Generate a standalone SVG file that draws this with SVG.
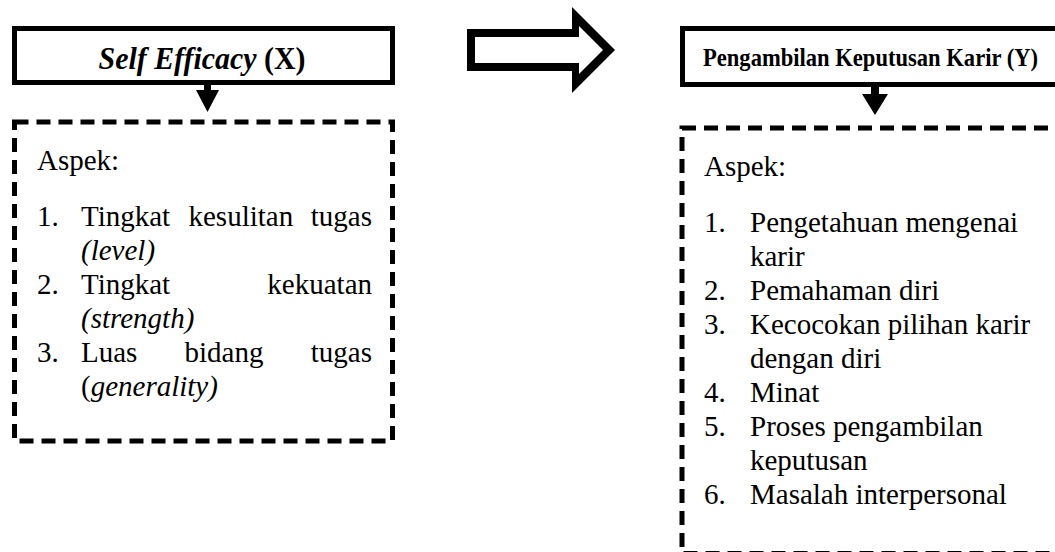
<svg xmlns="http://www.w3.org/2000/svg" width="1055" height="552" viewBox="0 0 1055 552">
<style>
.title{fill:#fff;stroke:#000;stroke-width:5}
.dash{fill:#fff;stroke:#000;stroke-width:5;stroke-dasharray:14 8}
.t{font-family:"Liberation Serif","Times New Roman",serif;font-size:29px;fill:#000}
.i{font-style:italic}
.h{font-family:"Liberation Serif","Times New Roman",serif;font-weight:bold;fill:#000}
</style>
<rect width="1055" height="552" fill="#fff"/>
<g id="connectors">
<path d="M467,29 H572 V7 L615,50 L572,93 V71 H467 Z M475,37 V63 H579 V74 L603,50 L579,26 V37 Z" fill="#000" fill-rule="evenodd"/>
<rect x="204" y="82" width="7" height="9" fill="#000"/>
<polygon points="196,90 219,90 207.5,112" fill="#000"/>
<rect x="871" y="84" width="8" height="11" fill="#000"/>
<polygon points="862,94 888,94 875,115" fill="#000"/>
</g>
<g id="node-x">
<rect class="title" x="14.5" y="28.5" width="378" height="54"/>
<text class="h" x="202" y="69" font-size="32" text-anchor="middle" textLength="207" lengthAdjust="spacingAndGlyphs"><tspan font-style="italic">Self Efficacy</tspan> (X)</text>
</g>
<g id="node-x-aspek">
<rect class="dash" x="14.5" y="122" width="378" height="319"/>
<text class="t" x="37" y="170">Aspek:</text>
<text class="t" x="37" y="226">1.</text>
<text class="t" x="81" y="226">Tingkat</text>
<text class="t" x="188.5" y="226">kesulitan</text>
<text class="t" x="372" y="226" text-anchor="end">tugas</text>
<text class="t i" x="81" y="260">(level)</text>
<text class="t" x="37" y="294">2.</text>
<text class="t" x="81" y="294">Tingkat</text>
<text class="t" x="372" y="294" text-anchor="end">kekuatan</text>
<text class="t i" x="81" y="328">(strength)</text>
<text class="t" x="37" y="362">3.</text>
<text class="t" x="81" y="362">Luas</text>
<text class="t" x="184.5" y="362">bidang</text>
<text class="t" x="372" y="362" text-anchor="end">tugas</text>
<text class="t" x="81" y="396">(<tspan class="i">generality)</tspan></text>
</g>
<g id="node-y">
<rect class="title" x="682.5" y="28.5" width="400" height="56"/>
<text class="h" x="703" y="66" font-size="26" textLength="335" lengthAdjust="spacingAndGlyphs">Pengambilan Keputusan Karir (Y)</text>
</g>
<g id="node-y-aspek">
<rect class="dash" x="682" y="128" width="400" height="425.5"/>
<text class="t" x="704" y="176">Aspek:</text>
<text class="t" x="704" y="232">1.</text>
<text class="t" x="750" y="232">Pengetahuan mengenai</text>
<text class="t" x="750" y="266">karir</text>
<text class="t" x="704" y="300">2.</text>
<text class="t" x="750" y="300">Pemahaman diri</text>
<text class="t" x="704" y="334">3.</text>
<text class="t" x="750" y="334">Kecocokan pilihan karir</text>
<text class="t" x="750" y="368">dengan diri</text>
<text class="t" x="704" y="402">4.</text>
<text class="t" x="750" y="402">Minat</text>
<text class="t" x="704" y="436">5.</text>
<text class="t" x="750" y="436">Proses pengambilan</text>
<text class="t" x="750" y="470">keputusan</text>
<text class="t" x="704" y="504">6.</text>
<text class="t" x="750" y="504">Masalah interpersonal</text>
</g>
</svg>
